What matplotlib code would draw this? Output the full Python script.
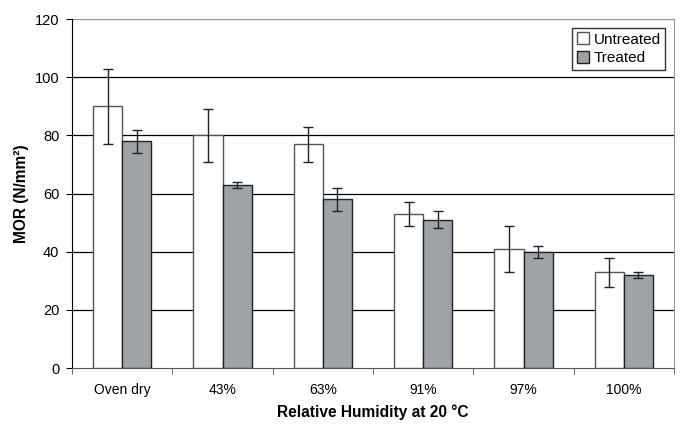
import numpy as np
import matplotlib
matplotlib.use("Agg")
import matplotlib.pyplot as plt

plt.rcParams['font.family'] = ['Liberation Sans', 'DejaVu Sans']

categories = ['Oven dry', '43%', '63%', '91%', '97%', '100%']
untreated = [90, 80, 77, 53, 41, 33]
untreated_err = [13, 9, 6, 4, 8, 5]
treated = [78, 63, 58, 51, 40, 32]
treated_err = [4, 1, 4, 3, 2, 1]

fig = plt.figure(figsize=(6.83, 4.24), dpi=100)
ax = fig.add_axes([0.1054, 0.132, 0.8816, 0.823])

x = np.arange(len(categories))
w = 0.29
ax.bar(x - w / 2, untreated, w, color='white', edgecolor='#555555', linewidth=1.0,
       label='Untreated', zorder=3)
ax.bar(x + w / 2, treated, w, color='#9ea3a8', edgecolor='#222222', linewidth=1.0,
       label='Treated', zorder=3)
ax.errorbar(x - w / 2, untreated, yerr=untreated_err, fmt='none', ecolor='#222222',
            elinewidth=1.0, capsize=3.5, capthick=1.0, zorder=4)
ax.errorbar(x + w / 2, treated, yerr=treated_err, fmt='none', ecolor='#222222',
            elinewidth=1.0, capsize=3.5, capthick=1.0, zorder=4)

ax.set_xlim(-0.5, len(categories) - 0.5)
ax.set_ylim(0, 120)
ax.set_yticks(np.arange(0, 121, 20))
for yv in range(20, 101, 20):
    ax.axhline(yv, color='black', linewidth=0.9, zorder=1)
ax.axhline(120, color='#999999', linewidth=1.0, zorder=1)

ax.set_xticks(x)
ax.set_xticklabels(categories, fontsize=10)
ax.set_xticks(np.arange(-0.5, len(categories), 1.0), minor=True)
ax.tick_params(axis='x', which='major', length=0, pad=11)
ax.tick_params(axis='x', which='minor', length=4, direction='out', color='#555555')
ax.tick_params(axis='y', labelsize=10.5, length=4, direction='out', color='black', pad=5)

for s in ['top', 'right']:
    ax.spines[s].set_visible(False)
ax.spines['right'].set_visible(True)
ax.spines['right'].set_color('#999999')
ax.spines['bottom'].set_color('#555555')
ax.spines['left'].set_color('black')

ax.set_xlabel('Relative Humidity at 20 °C', fontsize=11.2, fontweight='bold', labelpad=5)
ax.set_ylabel('MOR (N/mm²)', fontsize=11.2, fontweight='bold', labelpad=4)

leg = ax.legend(loc='upper right', bbox_to_anchor=(0.985, 0.975), fontsize=11,
                frameon=True, fancybox=False, edgecolor='black', handlelength=0.8,
                handleheight=0.8, handletextpad=0.3, borderpad=0.3, labelspacing=0.3,
                borderaxespad=0)
leg.get_frame().set_linewidth(1.0)

fig.savefig('out.png', dpi=100)
